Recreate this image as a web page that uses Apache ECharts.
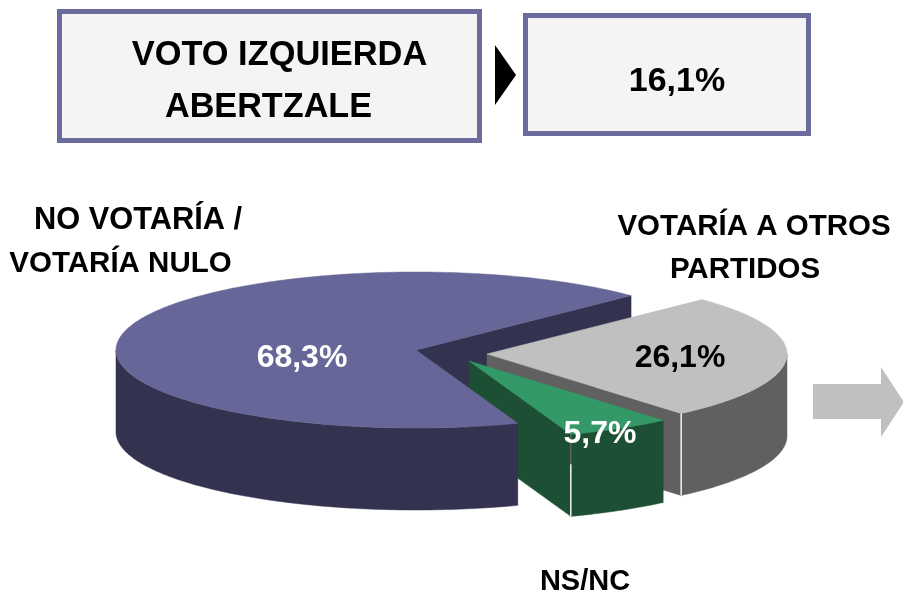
<!DOCTYPE html>
<html><head><meta charset="utf-8">
<style>html,body{margin:0;padding:0;background:#fff}#c{width:903px;height:590px}</style>
<script src="https://cdn.jsdelivr.net/npm/echarts@6/dist/echarts.min.js"></script>
</head><body><div id="c"></div>
<script>
var sliceNames = ['VOTARÍA A OTROS PARTIDOS', 'NS/NC', 'NO VOTARÍA / VOTARÍA NULO'];
var sliceValues = [26.1, 5.7, 68.3];
var sliceLabels = ['26,1%', '5,7%', '68,3%'];
var headerLines = ['VOTO IZQUIERDA', 'ABERTZALE'];
var headerValue = '16,1%';

var FONT = '"Liberation Sans", Arial, sans-serif';
var startDeg = -44.2, RX = 300, RY = 78, H = 82;
var centers = [[487, 354], [469, 361], [416, 350]];
var topCol = ['#C0C0C0', '#339966', '#666699'];
var wallCol = ['#606060', '#1C4F33', '#333350'];

var total = sliceValues.reduce(function (a, b) { return a + b; }, 0);
var spans = [], acc = startDeg;
sliceValues.forEach(function (v) {
  var s = v / total * 360;
  spans.push([acc, acc + s]);
  acc += s;
});
function pt(i, deg, dz) {
  var t = deg * Math.PI / 180;
  return [centers[i][0] + RX * Math.cos(t), centers[i][1] + RY * Math.sin(t) + (dz || 0)];
}
function arc(i, a, b, dz) {
  var out = [], n = Math.max(2, Math.ceil(Math.abs(b - a)));
  for (var k = 0; k <= n; k++) out.push(pt(i, a + (b - a) * k / n, dz));
  return out;
}
function topFace(i) {
  return [centers[i]].concat(arc(i, spans[i][0], spans[i][1]));
}
function outerWall(i, a, b) {
  return arc(i, a, b).concat(arc(i, b, a, H));
}
function sideWall(i, deg) {
  var c = centers[i], p = pt(i, deg);
  return [c, p, [p[0], p[1] + H], [c[0], c[1] + H]];
}
function poly(points, fill) {
  return { type: 'polygon', shape: { points: points },
    style: { fill: fill, stroke: fill, lineWidth: 0.5 } };
}
function seg(a, b, col) {
  return { type: 'line', shape: { x1: a[0], y1: a[1], x2: b[0], y2: b[1] }, style: { stroke: col, lineWidth: 1.5 } };
}
var g0 = spans[0], g1 = spans[1], g2 = spans[2];
var layers = [
  function () { return poly(sideWall(2, g2[1]), wallCol[2]); },
  function () { return poly(sideWall(0, g0[1]), wallCol[0]); },
  function () { return poly(outerWall(0, 0, g0[1]), wallCol[0]); },
  function () { return poly(topFace(0), topCol[0]); },
  function () { var p = pt(0, g0[1]); return seg(p, [p[0], p[1] + H], '#F4F4F4'); },
  function () { return poly(sideWall(1, g1[1]), wallCol[1]); },
  function () { return poly(outerWall(1, g1[0], g1[1]), wallCol[1]); },
  function () { return poly(topFace(1), topCol[1]); },
  function () { var p = pt(1, g1[1]); return seg(p, [p[0], p[1] + 30], '#606060'); },
  function () { var p = pt(1, g1[1]); return seg([p[0], p[1] + 30], [p[0], p[1] + H], '#F4F4F4'); },
  function () { return poly(outerWall(2, g2[0], 180), wallCol[2]); },
  function () { return poly(topFace(2), topCol[2]); }
];

function rect(x, y, w, h) {
  return { type: 'rect', shape: { x: x, y: y, width: w, height: h },
    style: { fill: '#F4F4F4', stroke: '#6B6B9E', lineWidth: 5 } };
}
function txt(s, x, y, col, size) {
  return { type: 'text', x: x, y: y, z: 10,
    style: { text: s, fill: col || '#000', font: 'bold ' + (size || 30) + 'px ' + FONT, align: 'center', verticalAlign: 'middle' } };
}
var chart = echarts.init(document.getElementById('c'), null, { renderer: 'canvas' });
chart.setOption({
  animation: false,
  backgroundColor: '#fff',
  series: [{
    type: 'custom', coordinateSystem: 'none', silent: true,
    data: layers.map(function (_, i) { return i; }),
    renderItem: function (params) { return layers[params.dataIndex](); }
  }],
  graphic: [
    rect(59.5, 11.5, 420, 129),
    rect(525.5, 15.5, 283, 118),
    { type: 'polygon', shape: { points: [[495, 45], [516, 75], [495, 105]] }, style: { fill: '#000' } },
    { type: 'polygon', shape: { points: [[813, 384], [881, 384], [881, 367], [904, 402], [881, 437], [881, 419], [813, 419]] }, style: { fill: '#C0C0C0' } },
    txt(headerLines[0], 279.5, 56, '#000', 34.4),
    txt(headerLines[1], 268.5, 108, '#000', 34.2),
    txt(headerValue, 677, 82, '#000', 34),
    txt('NO VOTARÍA /', 138, 221, '#000', 30.8),
    txt('VOTARÍA NULO', 120.5, 264, '#000', 29.5),
    txt('VOTARÍA A OTROS', 754, 227, '#000', 29.5),
    txt('PARTIDOS', 745, 270, '#000', 29.5),
    txt(sliceNames[1], 585, 582, '#000', 29),
    txt(sliceLabels[2], 302, 358, '#fff', 32),
    txt(sliceLabels[0], 680, 358, '#000', 32),
    txt(sliceLabels[1], 600, 434, '#fff', 32)
  ]
});
</script></body></html>
